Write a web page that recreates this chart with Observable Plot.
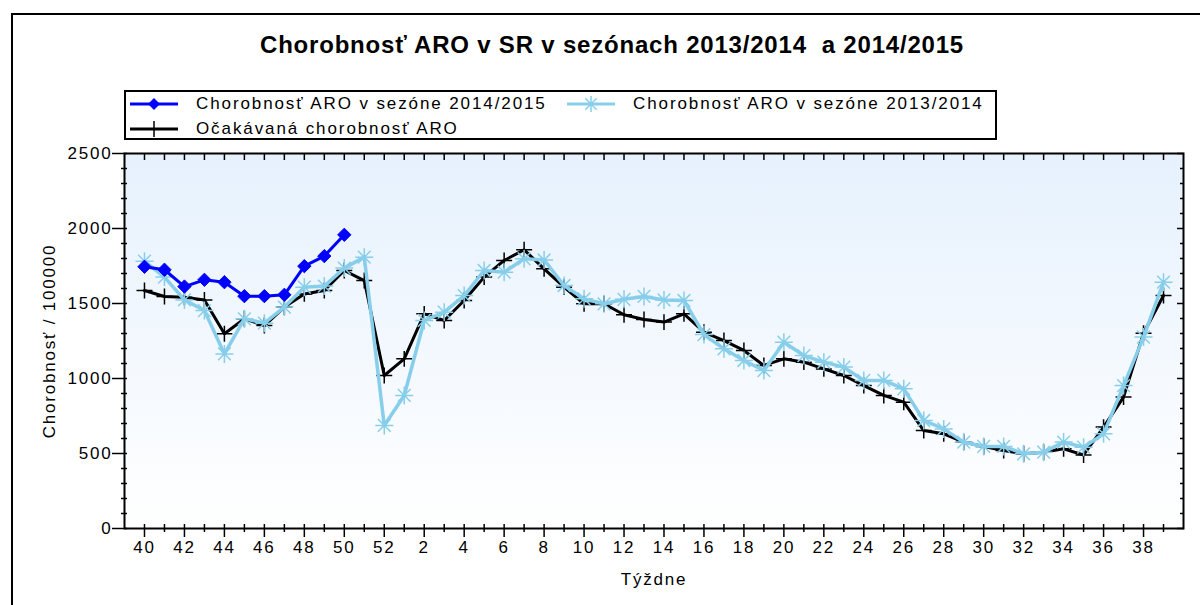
<!DOCTYPE html>
<html>
<head>
<meta charset="utf-8">
<script src="https://cdn.jsdelivr.net/npm/d3@7"></script>
<script src="https://cdn.jsdelivr.net/npm/@observablehq/plot@0.6"></script>
<style>
  html, body { margin: 0; padding: 0; background: #fff; }
  #wrap { position: relative; width: 1200px; height: 605px; overflow: hidden; font-family: "Liberation Sans", Arial, sans-serif; color: #000; }
  #border { position: absolute; left: 11px; top: 13px; width: 1300px; height: 700px; border-left: 2px solid #000; border-top: 2px solid #000; }
  #head { position: relative; height: 140px; }
  #title { position: absolute; left: 0; width: 1224px; top: 31px; text-align: center; font-weight: bold; font-size: 24px; letter-spacing: 0.8px; white-space: pre; }
  #legend { position: absolute; left: 124px; top: 90px; width: 869px; height: 46px; border: 2px solid #000; background: #fff; }
  .item { position: absolute; display: flex; align-items: center; font-size: 17px; letter-spacing: 1.9px; white-space: pre; }
  .item svg { margin-right: 16px; }
</style>
</head>
<body>
<div id="wrap">
  <div id="border"></div>
  <div id="head">
    <div id="title"></div>
    <div id="legend"></div>
  </div>
  <div id="chart"></div>
</div>
<script>
// ---- data ----
const titleText = "Chorobnosť ARO v SR v sezónach 2013/2014  a 2014/2015";
const seriesNames = ["Chorobnosť ARO v sezóne 2014/2015", "Chorobnosť ARO v sezóne 2013/2014", "Očakávaná chorobnosť ARO"];
const xLabel = "Týždne";
const yLabel = "Chorobnosť / 100000";
const weeks = [40,41,42,43,44,45,46,47,48,49,50,51,52,1,2,3,4,5,6,7,8,9,10,11,12,13,14,15,16,17,18,19,20,21,22,23,24,25,26,27,28,29,30,31,32,33,34,35,36,37,38,39];
const season2014_15 = [1745,1725,1613,1658,1642,1549,1549,1558,1749,1816,1958];
const season2013_14 = [1782,1676,1524,1453,1164,1398,1369,1476,1609,1616,1736,1809,687,887,1387,1442,1553,1720,1709,1798,1790,1620,1531,1498,1528,1547,1524,1520,1293,1198,1120,1053,1242,1153,1109,1076,987,987,931,720,664,576,547,547,498,509,576,542,631,953,1276,1642];
const expected = [1587,1547,1542,1524,1298,1398,1353,1476,1564,1587,1720,1653,1020,1131,1431,1387,1520,1676,1787,1858,1731,1609,1498,1498,1425,1393,1376,1431,1309,1253,1187,1087,1131,1109,1064,1020,953,887,842,653,631,576,547,520,498,509,531,490,676,876,1302,1553];
const yTicks = [0,500,1000,1500,2000,2500];

// ---- styles ----
const cBlue = "#0000ff", cSky = "#87ceeb", cBlack = "#000000";

const asterisk8 = {
  draw(ctx, size) {
    const r = Math.sqrt(size / Math.PI), d = r * Math.SQRT1_2;
    ctx.moveTo(-r, 0); ctx.lineTo(r, 0);
    ctx.moveTo(0, -r); ctx.lineTo(0, r);
    ctx.moveTo(-d, -d); ctx.lineTo(d, d);
    ctx.moveTo(-d, d); ctx.lineTo(d, -d);
  }
};

const rows = arr => arr.map((v, i) => ({i, v, week: weeks[i]}));
const idxAll = weeks.map((w, i) => i);
const idxEven = idxAll.filter(i => i % 2 === 0);
const idxOdd = idxAll.filter(i => i % 2 === 1);
const yMinor = d3.range(0, 2501, 100).filter(v => v % 500 !== 0);

document.getElementById("title").textContent = titleText;

// legend
const legend = document.getElementById("legend");
const legendDefs = [
  {name: seriesNames[0], color: cBlue, kind: "diamond", left: 4, top: 2},
  {name: seriesNames[1], color: cSky, kind: "asterisk", left: 441, top: 2},
  {name: seriesNames[2], color: cBlack, kind: "plus", left: 4, top: 27}
];
for (const L of legendDefs) {
  const div = document.createElement("div");
  div.className = "item";
  div.style.left = L.left + "px";
  div.style.top = L.top + "px";
  div.style.height = "20px";
  const s = d3.create("svg").attr("width", 50).attr("height", 20);
  s.append("line").attr("x1", 0).attr("x2", 48).attr("y1", 10).attr("y2", 10).attr("stroke", L.color).attr("stroke-width", 3);
  if (L.kind === "diamond") s.append("path").attr("d", "M24,4L30,10L24,16L18,10Z").attr("fill", L.color);
  if (L.kind === "asterisk") s.append("path").attr("d", "M16,10H32M24,2V18M18.3,4.3L29.7,15.7M18.3,15.7L29.7,4.3").attr("stroke", L.color).attr("stroke-width", 1.5);
  if (L.kind === "plus") s.append("path").attr("d", "M24,2V18").attr("stroke", L.color).attr("stroke-width", 1.5);
  div.appendChild(s.node());
  const t = document.createElement("span");
  t.textContent = L.name;
  div.appendChild(t);
  legend.appendChild(div);
}

const chart = Plot.plot({
  width: 1200,
  height: 465,
  marginLeft: 124,
  marginRight: 17,
  marginTop: 13,
  marginBottom: 77,
  style: {fontFamily: '"Liberation Sans", Arial, sans-serif', fontSize: "17px", color: "#000", background: "transparent", overflow: "visible"},
  x: {type: "linear", domain: [-1, 52]},
  y: {domain: [0, 2500]},
  marks: [
    Plot.frame({fill: "url(#bggrad)", stroke: null}),
    Plot.line(rows(expected), {x: "i", y: "v", stroke: cBlack, strokeWidth: 3}),
    Plot.dot(rows(expected), {x: "i", y: "v", symbol: "plus", r: 5.2, stroke: cBlack, strokeWidth: 1.5}),
    Plot.line(rows(season2013_14), {x: "i", y: "v", stroke: cSky, strokeWidth: 3.5}),
    Plot.dot(rows(season2013_14), {x: "i", y: "v", symbol: asterisk8, r: 9, fill: "none", stroke: cSky, strokeWidth: 1.5}),
    Plot.line(rows(season2014_15), {x: "i", y: "v", stroke: cBlue, strokeWidth: 3}),
    Plot.dot(rows(season2014_15), {x: "i", y: "v", symbol: "diamond2", r: 6, fill: cBlue, stroke: cBlue, strokeWidth: 1}),
    // axes
    Plot.axisY({anchor: "left", ticks: yTicks, tickSize: 15, dx: 3, fill: "none", label: null, strokeWidth: 1.5}),
    Plot.axisY({anchor: "left", ticks: yMinor, tickSize: 6, dx: 3, fill: "none", label: null, strokeWidth: 1.5}),
    Plot.axisY({anchor: "left", ticks: yTicks, tickSize: 0, tickPadding: 12, tickFormat: d => String(d), fontSize: 17, label: yLabel, labelAnchor: "center", labelOffset: 82, labelArrow: false}),
    Plot.axisY({anchor: "right", ticks: yTicks, tickSize: 7, dx: -7, fill: "none", label: null, strokeWidth: 1.5}),
    Plot.axisY({anchor: "right", ticks: yMinor, tickSize: 4, dx: -4, fill: "none", label: null, strokeWidth: 1.5}),
    Plot.axisX({anchor: "top", ticks: idxAll, tickSize: 6, dy: 6, fill: "none", label: null, strokeWidth: 1.5}),
    Plot.axisX({anchor: "bottom", ticks: idxEven, tickSize: 13, dy: -4, fill: "none", label: null, strokeWidth: 1.5}),
    Plot.axisX({anchor: "bottom", ticks: idxOdd, tickSize: 8, dy: -4, fill: "none", label: null, strokeWidth: 1.5}),
    Plot.axisX({anchor: "bottom", ticks: idxEven, tickSize: 0, tickPadding: 12, tickFormat: i => String(weeks[i]), fontSize: 17, label: xLabel, labelAnchor: "center", labelOffset: 56, labelArrow: false}),
    Plot.frame({stroke: "#000", strokeWidth: 2})
  ]
});

const svg = d3.select(chart);
svg.selectAll("text").style("letter-spacing", "1.8px").style("font-size", "17px");
const defs = svg.insert("defs", ":first-child");
const g = defs.append("linearGradient").attr("id", "bggrad").attr("x1", 0).attr("y1", 0).attr("x2", 0).attr("y2", 1);
g.append("stop").attr("offset", "0%").attr("stop-color", "#e6f1fd");
g.append("stop").attr("offset", "100%").attr("stop-color", "#ffffff");

document.getElementById("chart").appendChild(chart);
</script>
</body>
</html>
